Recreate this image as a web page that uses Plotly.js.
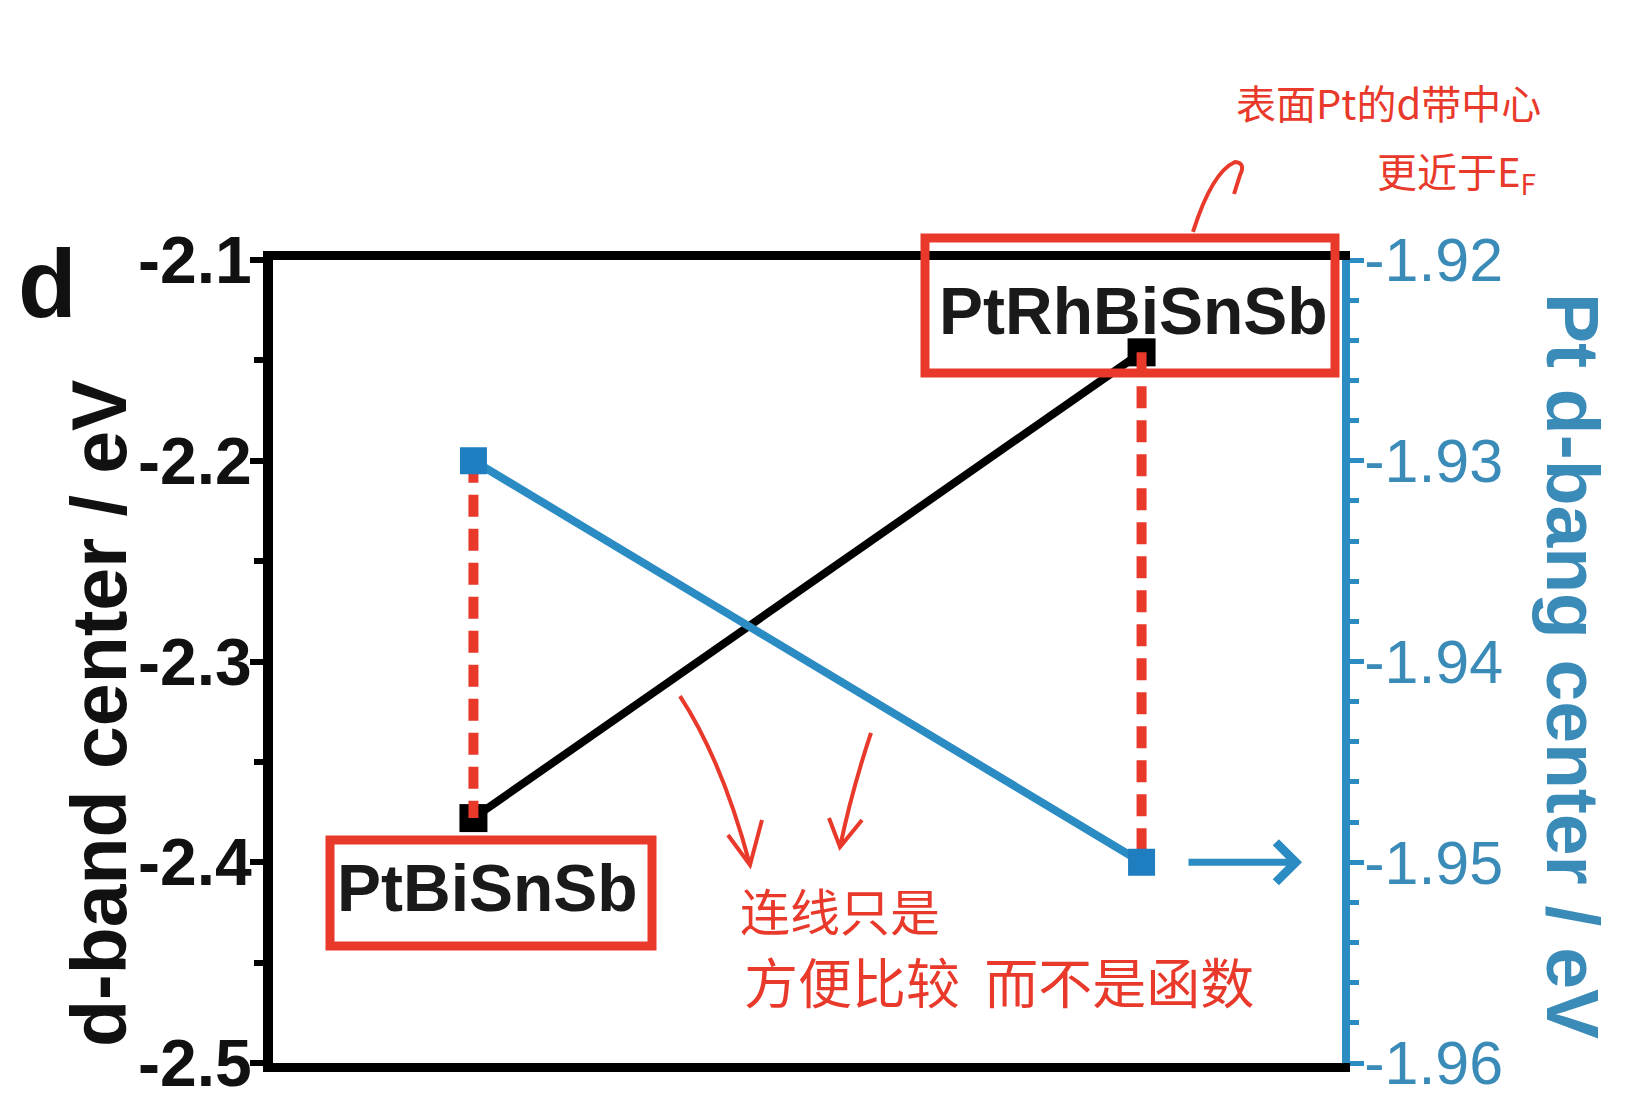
<!DOCTYPE html>
<html>
<head>
<meta charset="utf-8">
<script src="https://cdn.plot.ly/plotly-3.0.1.min.js"></script>
<style>
  html, body { margin: 0; padding: 0; background: #fff; }
  #chart { width: 1629px; height: 1116px; }
</style>
</head>
<body>
<div id="chart"></div>
<script>
// samples and their x positions
var samples = ['PtBiSnSb', 'PtRhBiSnSb'];
var xPos = [1, 2];

// d-band center (left axis) and Pt d-band center (right axis), eV
var dBand = [-2.378, -2.146];
var ptDBand = [-1.930, -1.950];

// axis ticks
var leftTicks = [-2.5, -2.4, -2.3, -2.2, -2.1];
var leftTickLabels = ['-2.5', '-2.4', '-2.3', '-2.2', '-2.1'];
var rightTicks = [-1.96, -1.95, -1.94, -1.93, -1.92];
var rightTickLabels = ['-1.96', '-1.95', '-1.94', '-1.93', '-1.92'];

var leftRange = [-2.5, -2.1];
var rightRange = [-1.96, -1.92];

var BLUE = '#2b8bc3';
var BLUE_TEXT = '#3a8bb8';
var RED = '#e8392b';
var FONT = 'Liberation Sans, Arial, sans-serif';
var CJK = 'Noto Sans CJK SC, sans-serif';

// plot area in pixels, used to place the hand drawn marks
var L = 273, R = 287, T = 260, B = 53, W = 1629, H = 1116;
var pw = W - L - R, ph = H - T - B;

function px(x) { return (x - L) / pw; }
function py(y) { return (H - B - y) / ph; }
function P(x, y) {
    return px(x).toFixed(4) + ',' + py(y).toFixed(4);
}

// map a right-axis value onto the left axis
function toLeft(v) {
    return leftRange[0] + (v - rightRange[0]) * (leftRange[1] - leftRange[0]) / (rightRange[1] - rightRange[0]);
}

// centred text placed at a pixel position
function note(text, x, y, font, extra) {
    var a = { text: text, xref: 'paper', yref: 'paper', x: px(x), y: py(y),
              xanchor: 'center', yanchor: 'middle', showarrow: false, font: font };
    for (var k in extra) a[k] = extra[k];
    return a;
}

function drawChart() {
    var black = {
        x: xPos,
        y: dBand,
        mode: 'lines+markers',
        line: { color: '#000', width: 8 },
        marker: { symbol: 'square', size: 28, color: '#000' },
        yaxis: 'y',
        hoverinfo: 'skip'
    };

    var blue = {
        x: xPos,
        y: ptDBand,
        mode: 'lines+markers',
        line: { color: BLUE, width: 8 },
        marker: { symbol: 'square', size: 27, color: '#1f7ec0' },
        yaxis: 'y2',
        hoverinfo: 'skip'
    };

    var data = [black, blue];

    // red dashed guides joining the two values of each sample
    for (var i = 0; i < xPos.length; i++) {
        var a = dBand[i], b = toLeft(ptDBand[i]);
        data.push({
            x: [xPos[i], xPos[i]],
            y: [Math.max(a, b), Math.min(a, b)],
            mode: 'lines',
            line: { color: RED, width: 10, dash: '22px,12px' },
            yaxis: 'y',
            hoverinfo: 'skip'
        });
    }

    var layout = {
        width: W,
        height: H,
        margin: { l: L, r: R, t: T, b: B },
        paper_bgcolor: '#fff',
        plot_bgcolor: '#fff',
        showlegend: false,
        font: { family: FONT },
        xaxis: {
            range: [0.7, 2.3],
            showline: true,
            mirror: true,
            linecolor: '#000',
            linewidth: 9,
            ticks: '',
            showticklabels: false,
            showgrid: false,
            zeroline: false
        },
        yaxis: {
            range: leftRange,
            tickmode: 'array',
            tickvals: leftTicks,
            ticktext: leftTickLabels,
            ticks: 'outside',
            ticklen: 13,
            tickwidth: 6,
            tickcolor: '#000',
            ticklabelstandoff: -15,
            tickfont: { size: 66, color: '#111', weight: 'bold' },
            minor: { tickmode: 'linear', tick0: -2.5, dtick: 0.05, ticks: 'outside', ticklen: 9, tickwidth: 6, tickcolor: '#000' },
            showline: true,
            linecolor: '#000',
            linewidth: 10,
            showgrid: false,
            zeroline: false
        },
        yaxis2: {
            range: rightRange,
            overlaying: 'y',
            side: 'right',
            tickmode: 'array',
            tickvals: rightTicks,
            ticktext: rightTickLabels,
            ticks: 'outside',
            ticklen: 14,
            tickwidth: 5,
            tickcolor: BLUE,
            ticklabelstandoff: -12,
            tickfont: { size: 61, color: BLUE_TEXT },
            minor: { tickmode: 'linear', tick0: -1.96, dtick: 0.002, ticks: 'outside', ticklen: 9, tickwidth: 5, tickcolor: BLUE },
            showline: true,
            linecolor: BLUE,
            linewidth: 8,
            showgrid: false,
            zeroline: false
        },
        annotations: [
            note('d', 47, 283, { size: 96, color: '#111', weight: 'bold' }),
            note('d-band center / eV', 99, 714, { size: 77, color: '#111', weight: 'bold' }, { textangle: -90 }),
            note('Pt d-bang center / eV', 1573, 666, { size: 75, color: BLUE_TEXT, weight: 'bold' }, { textangle: 90 }),
            { text: samples[0], xref: 'x', yref: 'paper', x: xPos[0], xshift: 14, y: py(888),
              xanchor: 'center', yanchor: 'middle', showarrow: false,
              font: { size: 66, color: '#1a1a1a', weight: 'bold' } },
            { text: samples[1], xref: 'x', yref: 'paper', x: xPos[1], xshift: -8, y: py(311),
              xanchor: 'center', yanchor: 'middle', showarrow: false,
              font: { size: 66, color: '#1a1a1a', weight: 'bold' } },
            // blue arrow pointing to the right axis
            { text: '', xref: 'paper', yref: 'y2', x: px(1302), y: ptDBand[1], ax: -115, ay: 0,
              showarrow: true, arrowhead: 4, arrowsize: 1.1, arrowwidth: 7, arrowcolor: BLUE },
            // handwritten notes
            note('表面Pt的d带中心', 1388, 102, { family: CJK, size: 40, color: RED }),
            note('更近于E<sub>F</sub>', 1456, 172, { family: CJK, size: 40, color: RED }),
            note('连线只是', 738, 909, { family: CJK, size: 50, color: RED }, { xanchor: 'left' }),
            note('方便比较  而不是函数', 742, 980, { family: CJK, size: 54, color: RED }, { xanchor: 'left' })
        ],
        shapes: [
            { type: 'rect', xref: 'paper', yref: 'paper', x0: px(925), x1: px(1335),
              y0: py(373), y1: py(238), line: { color: RED, width: 9 } },
            { type: 'rect', xref: 'paper', yref: 'paper', x0: px(330), x1: px(652),
              y0: py(946), y1: py(840), line: { color: RED, width: 9 } },
            // hand drawn arrows
            { type: 'path', xref: 'paper', yref: 'paper', line: { color: RED, width: 4 },
              path: 'M' + P(1193, 232) + ' Q' + P(1212, 172) + ' ' + P(1235, 162) +
                    ' Q' + P(1246, 163) + ' ' + P(1240, 175) + ' L' + P(1234, 194) },
            { type: 'path', xref: 'paper', yref: 'paper', line: { color: RED, width: 4 },
              path: 'M' + P(680, 696) + ' Q' + P(722, 760) + ' ' + P(750, 865) +
                    ' M' + P(728, 835) + ' L' + P(750, 865) + ' L' + P(762, 820) },
            { type: 'path', xref: 'paper', yref: 'paper', line: { color: RED, width: 4 },
              path: 'M' + P(871, 733) + ' Q' + P(852, 790) + ' ' + P(840, 847) +
                    ' M' + P(829, 818) + ' L' + P(840, 847) + ' L' + P(862, 820) }
        ]
    };

    Plotly.newPlot('chart', data, layout, { staticPlot: true });
}

window.addEventListener('load', drawChart);
</script>
</body>
</html>
